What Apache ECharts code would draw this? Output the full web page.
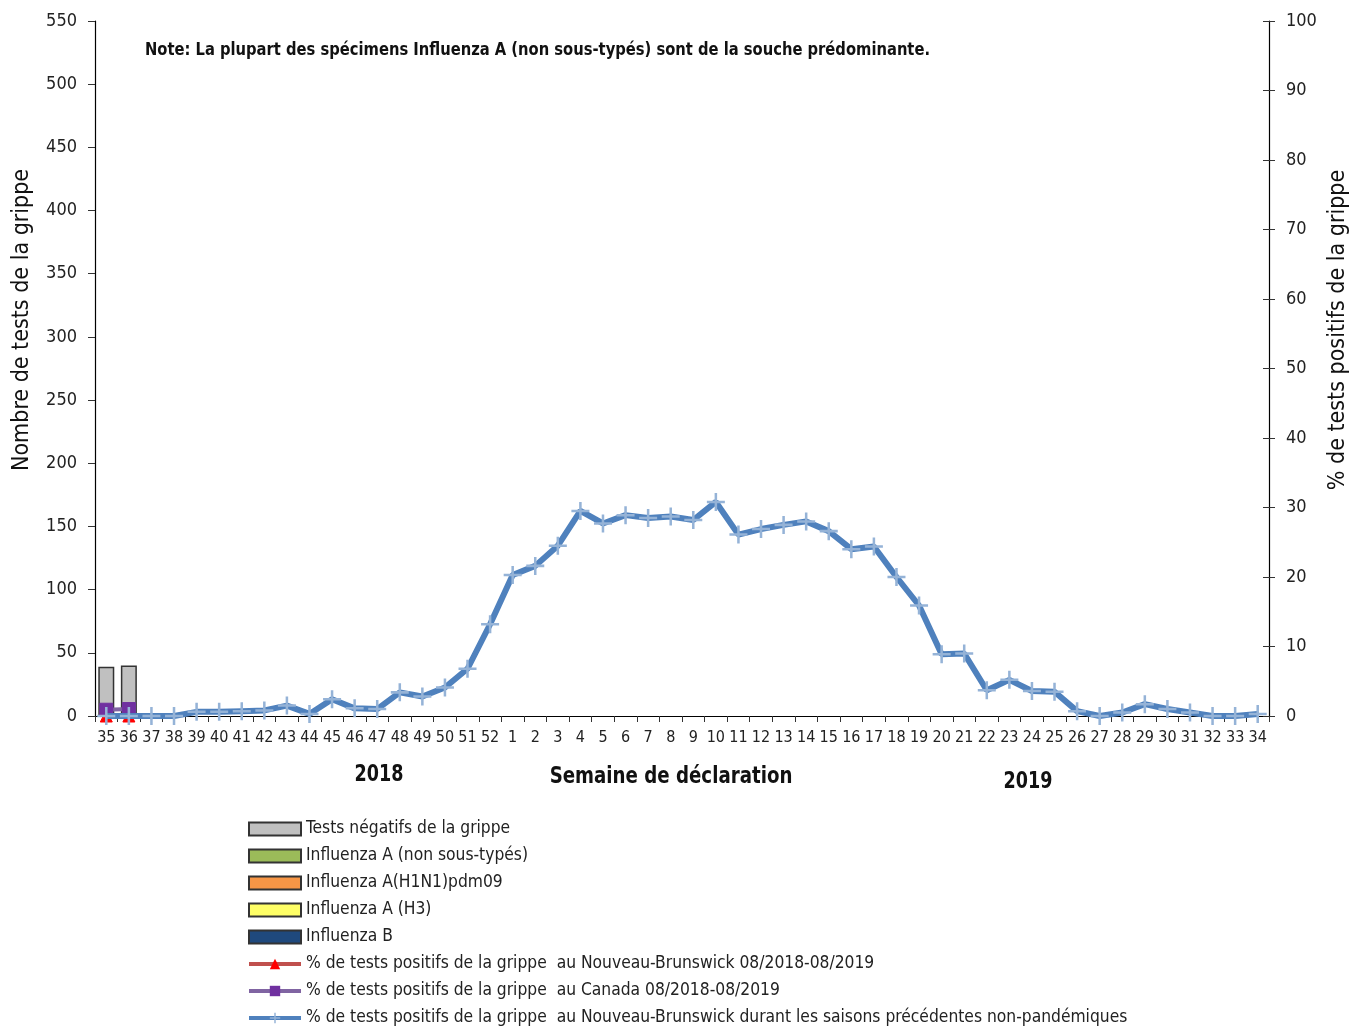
<!DOCTYPE html>
<html>
<head>
<meta charset="utf-8">
<script src="https://cdn.jsdelivr.net/npm/echarts@6/dist/echarts.min.js"></script>
<style>
html,body{margin:0;padding:0;background:#fff;}
#chart{width:1369px;height:1030px;}
</style>
</head>
<body>
<div id="chart"></div>
<script>
var weeks = ['35','36','37','38','39','40','41','42','43','44','45','46','47','48','49','50','51','52',
  '1','2','3','4','5','6','7','8','9','10','11','12','13','14','15','16','17','18','19','20','21','22','23','24','25','26','27','28','29','30','31','32','33','34'];

var negativeTests = [39, 40];
var fluAUnsubtyped = [0, 0];
var fluAH1N1 = [0, 0];
var fluAH3 = [0, 0];
var fluB = [0, 0];

var pctNB = [0, 0];
var pctCanada = [0.9, 1.0];
var pctNBHistoric = [0, 0, 0, 0, 0.6, 0.6, 0.7, 0.8, 1.5, 0.3, 2.4, 1.1, 1.0, 3.4, 2.8, 4.1, 6.8, 13.2,
  20.3, 21.6, 24.5, 29.5, 27.7, 28.9, 28.5, 28.7, 28.2, 30.8, 26.1, 26.9, 27.5, 28.0, 26.6, 24.0, 24.4, 20.0,
  15.9, 8.9, 9.0, 3.7, 5.2, 3.6, 3.5, 0.7, 0, 0.5, 1.7, 1.0, 0.5, 0, 0, 0.3];

var leftTicks = {min: 0, max: 550, interval: 50};
var rightTicks = {min: 0, max: 100, interval: 10};

var FONT = '"Liberation Sans Narrow", "DejaVu Sans Condensed", "Liberation Sans", sans-serif';
var plusPath = 'path://M4.3,0h1.4v4.3h4.3v1.4h-4.3v4.3h-1.4v-4.3h-4.3v-1.4h4.3z';

var names = {
  neg: 'Tests négatifs de la grippe',
  aUns: 'Influenza A (non sous-typés)',
  h1: 'Influenza A(H1N1)pdm09',
  h3: 'Influenza A (H3)',
  b: 'Influenza B',
  nb: '% de tests positifs de la grippe  au Nouveau-Brunswick 08/2018-08/2019',
  ca: '% de tests positifs de la grippe  au Canada 08/2018-08/2019',
  hist: '% de tests positifs de la grippe  au Nouveau-Brunswick durant les saisons précédentes non-pandémiques'
};

function pad(arr){
  var out = [];
  for (var i = 0; i < weeks.length; i++) out.push(i < arr.length ? arr[i] : null);
  return out;
}

function barSeries(name, data, color){
  return {
    name: name, type: 'bar', stack: 'tests', yAxisIndex: 0,
    data: pad(data), barWidth: 16,
    itemStyle: {color: color, borderColor: '#333', borderWidth: 1.5},
    emphasis: {disabled: true}
  };
}

var chart = echarts.init(document.getElementById('chart'), null, {renderer: 'canvas'});
var option = {
  animation: false,
  backgroundColor: '#fff',
  textStyle: {fontFamily: FONT},
  grid: {left: 95, right: 100, top: 21, bottom: 314, containLabel: false},
  xAxis: {
    type: 'category', data: weeks, boundaryGap: true,
    axisLine: {lineStyle: {color: '#000', width: 1.2}},
    axisTick: {show: true, alignWithLabel: false, length: 6, lineStyle: {color: '#333'}},
    axisLabel: {interval: 0, color: '#222', fontSize: 16, fontFamily: FONT, margin: 14}
  },
  yAxis: [{
    type: 'value', min: leftTicks.min, max: leftTicks.max, interval: leftTicks.interval,
    splitLine: {show: false},
    axisLine: {show: true, lineStyle: {color: '#000', width: 1.2}},
    axisTick: {show: true, length: 7, lineStyle: {color: '#333'}},
    axisLabel: {color: '#222', fontSize: 18, fontFamily: FONT, margin: 18}
  }, {
    type: 'value', position: 'right', min: rightTicks.min, max: rightTicks.max, interval: rightTicks.interval,
    splitLine: {show: false},
    axisLine: {show: true, lineStyle: {color: '#000', width: 1.2}},
    axisTick: {show: true, inside: false, length: 6, lineStyle: {color: '#333'}},
    axisLabel: {color: '#222', fontSize: 18, fontFamily: FONT, margin: 17}
  }, {
    type: 'value', position: 'right', min: rightTicks.min, max: rightTicks.max, interval: rightTicks.interval,
    splitLine: {show: false},
    axisLine: {show: false},
    axisTick: {show: true, inside: true, length: 6, lineStyle: {color: '#333'}},
    axisLabel: {show: false}
  }],
  legend: {
    orient: 'vertical', left: 247, top: 820, height: 260, padding: 0,
    itemWidth: 52, itemHeight: 13, itemGap: 9,
    textStyle: {color: '#222', fontSize: 17.3, fontFamily: FONT, lineHeight: 18},
    selectedMode: false,
    data: [
      {name: names.neg, icon: 'rect'},
      {name: names.aUns, icon: 'rect'},
      {name: names.h1, icon: 'rect'},
      {name: names.h3, icon: 'rect'},
      {name: names.b, icon: 'rect'},
      {name: names.nb, lineStyle: {width: 4}},
      {name: names.ca, lineStyle: {width: 4}},
      {name: names.hist, lineStyle: {width: 4}}
    ]
  },
  series: [
    barSeries(names.aUns, fluAUnsubtyped, '#9BBB59'),
    barSeries(names.h1, fluAH1N1, '#F79646'),
    barSeries(names.h3, fluAH3, '#FFFF66'),
    barSeries(names.b, fluB, '#1F497D'),
    barSeries(names.neg, negativeTests, '#C0C0C0'),
    {
      name: names.nb,
      type: 'line', yAxisIndex: 1, data: pad(pctNB), z: 3,
      symbol: 'triangle', symbolSize: 12, showAllSymbol: true,
      lineStyle: {color: '#C0504D', width: 4},
      itemStyle: {color: '#FF0000', borderColor: '#FF0000'}
    },
    {
      name: names.ca,
      type: 'line', yAxisIndex: 1, data: pad(pctCanada), z: 4,
      symbol: 'rect', symbolSize: 13, showAllSymbol: true,
      lineStyle: {color: '#8064A2', width: 4},
      itemStyle: {color: '#7030A0', borderColor: '#7030A0'}
    },
    {
      name: names.hist,
      type: 'line', yAxisIndex: 1, data: pad(pctNBHistoric), z: 5,
      symbol: plusPath, symbolSize: 18, showAllSymbol: true,
      lineStyle: {color: '#4F81BD', width: 6},
      itemStyle: {color: '#95B3D7', borderWidth: 0}
    }
  ],
  graphic: [
    {type: 'text', x: 145, y: 50, scaleX: 0.91, style: {text: 'Note: La plupart des spécimens Influenza A (non sous-typés) sont de la souche prédominante.', font: 'bold 18px ' + FONT, fill: '#111', verticalAlign: 'middle'}},
    {type: 'text', x: 22, y: 320, rotation: Math.PI / 2, style: {text: 'Nombre de tests de la grippe', font: '23px ' + FONT, fill: '#111', align: 'center', verticalAlign: 'middle'}},
    {type: 'text', x: 1338, y: 330, rotation: Math.PI / 2, style: {text: '% de tests positifs de la grippe', font: '23px ' + FONT, fill: '#111', align: 'center', verticalAlign: 'middle'}},
    {type: 'text', x: 671, y: 777, scaleX: 0.88, style: {text: 'Semaine de déclaration', font: 'bold 23px ' + FONT, fill: '#111', align: 'center', verticalAlign: 'middle'}},
    {type: 'text', x: 379, y: 775, scaleX: 0.85, style: {text: '2018', font: 'bold 23px ' + FONT, fill: '#111', align: 'center', verticalAlign: 'middle'}},
    {type: 'text', x: 1028, y: 782, scaleX: 0.85, style: {text: '2019', font: 'bold 23px ' + FONT, fill: '#111', align: 'center', verticalAlign: 'middle'}}
  ]
};
chart.setOption(option);
</script>
</body>
</html>
